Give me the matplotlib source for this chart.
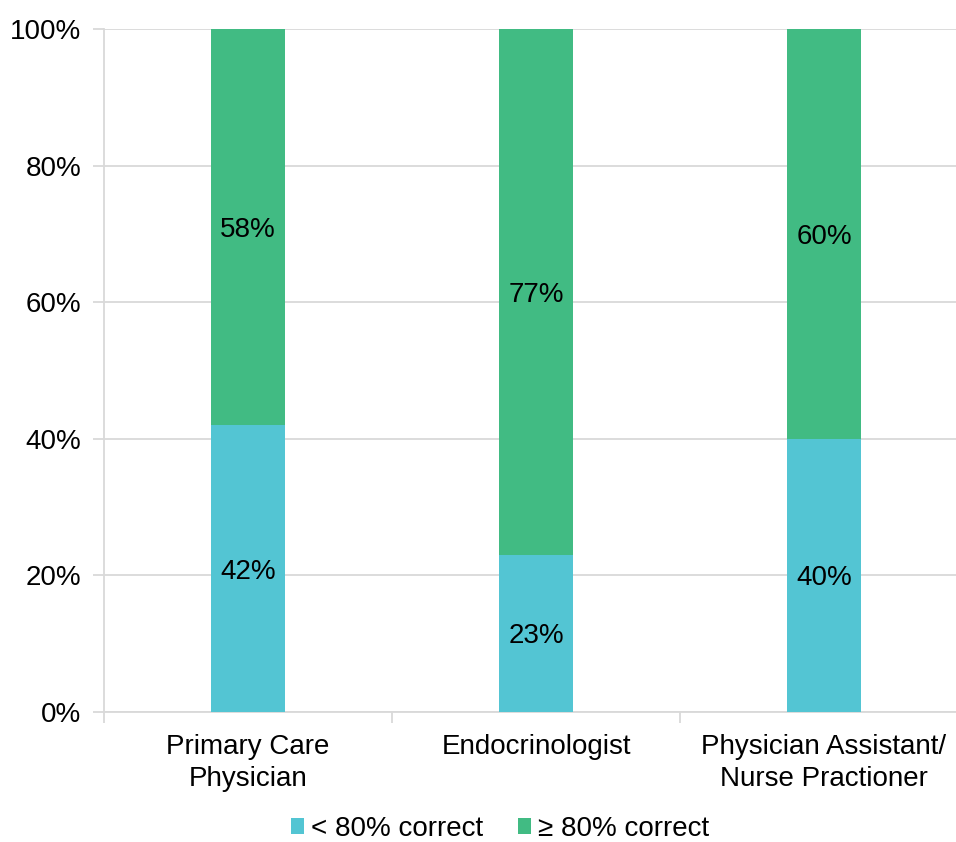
import matplotlib
matplotlib.use("Agg")
import matplotlib.pyplot as plt
from matplotlib.patches import Patch

categories = ["Primary Care\nPhysician", "Endocrinologist", "Physician Assistant/\nNurse Practioner"]
below80 = [42, 23, 40]
above80 = [58, 77, 60]
series_names = ["< 80% correct", "\u2265 80% correct"]
yticks = [0, 20, 40, 60, 80, 100]

c_below = "#53C5D3"
c_above = "#41BB83"
grid_c = "#D9D9D9"
fs = 20

plt.rcParams['font.family'] = ['Liberation Sans', 'DejaVu Sans']

fig = plt.figure(figsize=(9.56, 8.42), dpi=100)
W, H = 956, 842
ax = fig.add_axes([104 / W, (H - 712) / H, (968 - 104) / W, 683 / H])

x = list(range(len(categories)))
bw = 0.26
ax.bar(x, below80, width=bw, color=c_below, zorder=3)
ax.bar(x, above80, width=bw, bottom=below80, color=c_above, zorder=3)

for i in x:
    ax.text(i, below80[i] / 2, f"{below80[i]}%", ha="center", va="center_baseline", fontsize=fs, color="#000000", zorder=4)
    ax.text(i, below80[i] + above80[i] / 2, f"{above80[i]}%", ha="center", va="center_baseline", fontsize=fs, color="#000000", zorder=4)

ax.set_xlim(-0.5, len(categories) - 0.5)
ax.set_ylim(0, 100)
ax.set_yticks(yticks)
ax.set_yticklabels([f"{t}%" for t in yticks], fontsize=fs)
ax.yaxis.grid(True, color=grid_c, linewidth=1.3, zorder=0)
ax.tick_params(axis="y", length=8, color=grid_c, width=1.3, pad=8.5)

ax.set_xticks(x)
ax.set_xticklabels(categories, fontsize=fs, linespacing=1.27)
ax.set_xticks([-0.5, 0.5, 1.5, 2.5], minor=True)
ax.tick_params(axis="x", which="major", length=0, pad=16)
ax.tick_params(axis="x", which="minor", length=8, color=grid_c, width=1.3)

for s in ["top", "right"]:
    ax.spines[s].set_visible(False)
for s in ["left", "bottom"]:
    ax.spines[s].set_color(grid_c)
    ax.spines[s].set_linewidth(1.3)

handles = [Patch(facecolor=c_below, label=series_names[0]), Patch(facecolor=c_above, label=series_names[1])]
fig.legend(handles=handles, loc="center", bbox_to_anchor=(500 / W, (H - 829) / H), ncol=2, frameon=False,
           fontsize=fs, handlelength=0.47, handleheight=0.47, handletextpad=0.25, columnspacing=1.25)

fig.savefig("out.png", dpi=100)
